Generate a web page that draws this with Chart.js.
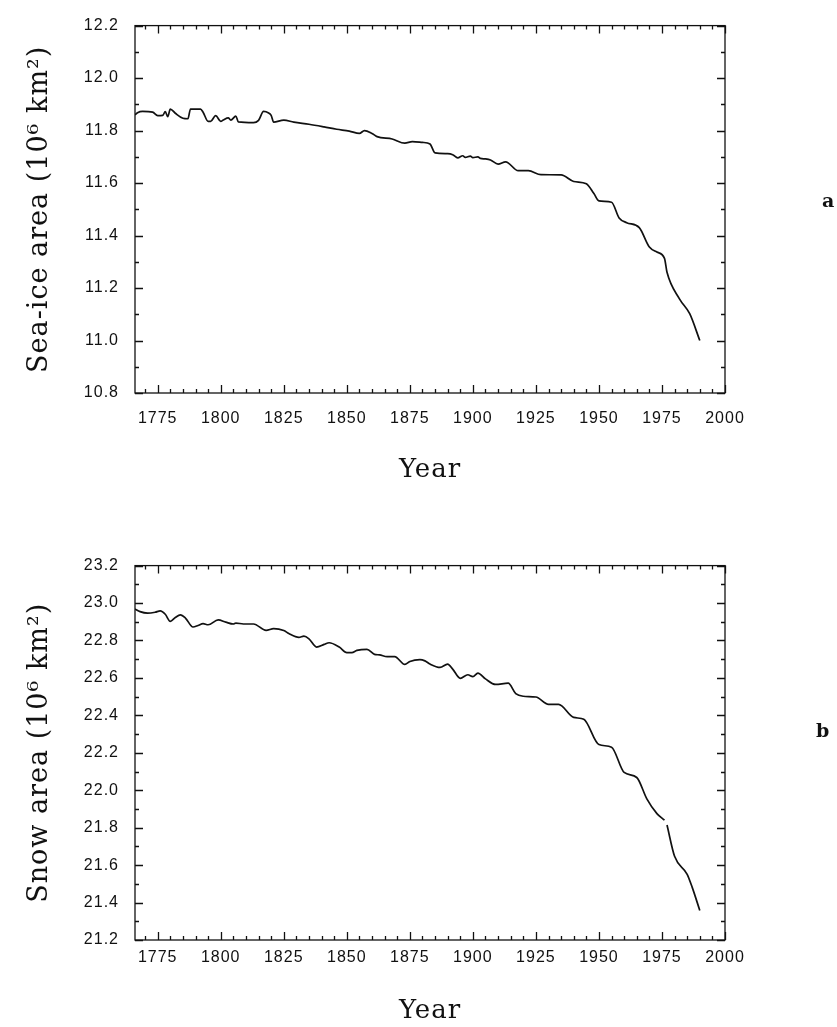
<!DOCTYPE html>
<html>
<head>
<meta charset="utf-8">
<title>Sea-ice and snow area</title>
<script src="https://cdn.jsdelivr.net/npm/chart.js@4/dist/chart.umd.min.js"></script>
<style>
  html, body { margin: 0; padding: 0; background: #fff; }
  #page { position: relative; width: 837px; height: 1027px; overflow: hidden; background: #fff; }
  .panel { position: absolute; left: 0; width: 837px; }
  .tag { position: absolute; font-family: "DejaVu Serif", "Liberation Serif", serif; font-weight: bold; font-size: 19px; color: #111; line-height: 24px; }
</style>
</head>
<body>
<div id="page">
  <div class="panel" style="top:0;height:490px"><canvas id="seaIce" width="837" height="490"></canvas></div>
  <div class="panel" style="top:540px;height:487px"><canvas id="snow" width="837" height="487"></canvas></div>
  <div class="tag" style="left:822px;top:188px">a</div>
  <div class="tag" style="left:816px;top:718px">b</div>
</div>
<script>
// Panel a: Northern Hemisphere sea-ice area (10^6 km^2)
const seaIceYears = [
  1766, 1767, 1769, 1773, 1775, 1777, 1778, 1779, 1780, 1782,
  1785, 1787, 1788, 1792, 1793, 1795, 1796, 1798, 1800, 1801,
  1803, 1804, 1806, 1807, 1813, 1815, 1817, 1819, 1820, 1821,
  1825, 1829, 1835, 1841, 1846, 1851, 1855, 1857, 1860, 1862,
  1868, 1873, 1876, 1880, 1883, 1885, 1890, 1892, 1894, 1896,
  1897, 1899, 1900, 1902, 1903, 1905, 1907, 1910, 1913, 1918,
  1922, 1927, 1935, 1940, 1945, 1948, 1950, 1955, 1958, 1961,
  1966, 1970, 1973, 1976, 1977, 1982, 1986, 1990
];
const seaIceArea = [
  11.860, 11.868, 11.873, 11.870, 11.857, 11.858, 11.872, 11.853, 11.882, 11.866,
  11.847, 11.845, 11.882, 11.882, 11.870, 11.835, 11.835, 11.857, 11.835, 11.840,
  11.848, 11.840, 11.855, 11.833, 11.830, 11.839, 11.873, 11.867, 11.858, 11.832,
  11.840, 11.832, 11.824, 11.814, 11.805, 11.798, 11.789, 11.800, 11.789, 11.777,
  11.768, 11.752, 11.758, 11.755, 11.749, 11.715, 11.712, 11.708, 11.696, 11.704,
  11.698, 11.703, 11.697, 11.700, 11.694, 11.692, 11.688, 11.672, 11.681, 11.647,
  11.647, 11.632, 11.631, 11.606, 11.597, 11.560, 11.532, 11.527, 11.467, 11.449,
  11.430, 11.356, 11.337, 11.313, 11.260, 11.158, 11.102, 11.000
];

// Panel b: Northern Hemisphere snow area (10^6 km^2); null marks the break in the trace
const snowYears = [
  1766, 1768, 1771, 1774, 1776, 1778, 1780, 1782, 1784, 1786,
  1789, 1791, 1793, 1795, 1799, 1802, 1805, 1806, 1809, 1813,
  1818, 1821, 1825, 1827, 1831, 1833, 1835, 1838, 1841, 1843,
  1847, 1850, 1852, 1854, 1858, 1861, 1863, 1866, 1869, 1873,
  1875, 1879, 1881, 1883, 1887, 1890, 1892, 1895, 1898, 1900,
  1902, 1905, 1909, 1914, 1917, 1920, 1925, 1930, 1934, 1940,
  1944, 1950, 1955, 1960, 1965, 1969, 1973, 1976, 1976.5, 1977,
  1980, 1985, 1987, 1990
];
const snowArea = [
  22.968, 22.954, 22.946, 22.951, 22.958, 22.940, 22.902, 22.923, 22.937, 22.920,
  22.872, 22.880, 22.890, 22.884, 22.910, 22.898, 22.888, 22.893, 22.888, 22.888,
  22.854, 22.863, 22.853, 22.837, 22.817, 22.823, 22.809, 22.765, 22.779, 22.788,
  22.765, 22.735, 22.735, 22.747, 22.753, 22.726, 22.723, 22.714, 22.714, 22.672,
  22.688, 22.698, 22.691, 22.674, 22.656, 22.674, 22.647, 22.598, 22.617, 22.607,
  22.626, 22.595, 22.565, 22.572, 22.516, 22.502, 22.498, 22.459, 22.459, 22.389,
  22.379, 22.244, 22.230, 22.095, 22.068, 21.954, 21.875, 21.840, null, 21.814,
  21.647, 21.551, 21.481, 21.358
];

// Axis tick labels
const yearTicks = [1775, 1800, 1825, 1850, 1875, 1900, 1925, 1950, 1975, 2000];
const seaIceTicks = [10.8, 11.0, 11.2, 11.4, 11.6, 11.8, 12.0, 12.2];
const snowTicks = [21.2, 21.4, 21.6, 21.8, 22.0, 22.2, 22.4, 22.6, 22.8, 23.0, 23.2];

const INK = '#111';
const SERIF = '"DejaVu Serif", "Liberation Serif", serif';
const SANS = '"Liberation Sans", Arial, sans-serif';

// Boxed frame with inward ticks on all four sides
const frameTicks = {
  id: 'frameTicks',
  beforeDraw(chart) {
    chart.ctx.letterSpacing = '1px';
  },
  afterDatasetsDraw(chart, args, opts) {
    const { ctx, chartArea: a, scales: { x, y } } = chart;
    ctx.save();
    ctx.strokeStyle = INK;
    ctx.lineWidth = 1.3;
    ctx.strokeRect(a.left, a.top, a.right - a.left, a.bottom - a.top);
    ctx.beginPath();
    const first = Math.ceil(x.min / opts.xMinor) * opts.xMinor;
    for (let v = first; v <= x.max + 1e-9; v += opts.xMinor) {
      const px = Math.round(x.getPixelForValue(v)) + 0.5;
      const len = (v % opts.xMajor === 0) ? 8 : 4;
      ctx.moveTo(px, a.bottom); ctx.lineTo(px, a.bottom - len);
      ctx.moveTo(px, a.top); ctx.lineTo(px, a.top + len);
    }
    const n = Math.round((y.max - y.min) / opts.yMinor);
    for (let i = 0; i <= n; i++) {
      const py = Math.round(y.getPixelForValue(y.min + i * opts.yMinor)) + 0.5;
      const len = (i % 2 === 0) ? 8 : 4;
      ctx.moveTo(a.left, py); ctx.lineTo(a.left + len, py);
      ctx.moveTo(a.right, py); ctx.lineTo(a.right - len, py);
    }
    ctx.stroke();
    ctx.restore();
  }
};

function makePanel(id, years, values, yTicks, yTitle, geo) {
  const points = years.map((yr, i) => ({ x: yr, y: values[i] }));
  return new Chart(document.getElementById(id), {
    type: 'line',
    data: {
      datasets: [{
        data: points,
        borderColor: INK,
        borderWidth: 1.7,
        pointRadius: 0,
        tension: 0.4,
        cubicInterpolationMode: 'monotone',
        spanGaps: false,
        fill: false
      }]
    },
    options: {
      responsive: false,
      animation: false,
      events: [],
      layout: { padding: { top: geo.top, right: 112, left: 0, bottom: 0 } },
      plugins: {
        legend: { display: false },
        tooltip: { enabled: false },
        frameTicks: { xMinor: 5, xMajor: 25, yMinor: 0.1 }
      },
      scales: {
        x: {
          type: 'linear',
          min: 1766,
          max: 2000,
          afterBuildTicks: s => { s.ticks = yearTicks.map(v => ({ value: v })); },
          afterFit: s => { s.height = geo.xHeight; },
          grid: { display: false, drawTicks: false },
          border: { display: false },
          ticks: {
            autoSkip: false, maxRotation: 0, padding: geo.xTickPad,
            color: INK, font: { family: SANS, size: 16 },
            callback: v => String(v)
          },
          title: {
            display: true, text: 'Year', color: INK,
            font: { family: SERIF, size: 26 },
            padding: { top: 0, bottom: geo.xTitlePad }
          }
        },
        y: {
          type: 'linear',
          min: yTicks[0],
          max: yTicks[yTicks.length - 1],
          afterBuildTicks: s => { s.ticks = yTicks.map(v => ({ value: v })); },
          afterFit: s => { s.width = 135; },
          grid: { display: false, drawTicks: false },
          border: { display: false },
          ticks: {
            padding: 16, color: INK, font: { family: SANS, size: 16 },
            callback: v => Number(v).toFixed(1)
          },
          title: {
            display: true, text: yTitle, color: INK,
            font: { family: SERIF, size: 27 },
            padding: { top: 24, bottom: 0 }
          }
        }
      }
    },
    plugins: [frameTicks]
  });
}

makePanel('seaIce', seaIceYears, seaIceArea, seaIceTicks, 'Sea-ice area (10⁶ km²)',
  { top: 16, xHeight: 97, xTickPad: 16, xTitlePad: 4 });
makePanel('snow', snowYears, snowArea, snowTicks, 'Snow area (10⁶ km²)',
  { top: 20, xHeight: 87, xTickPad: 8, xTitlePad: 0 });
</script>
</body>
</html>
